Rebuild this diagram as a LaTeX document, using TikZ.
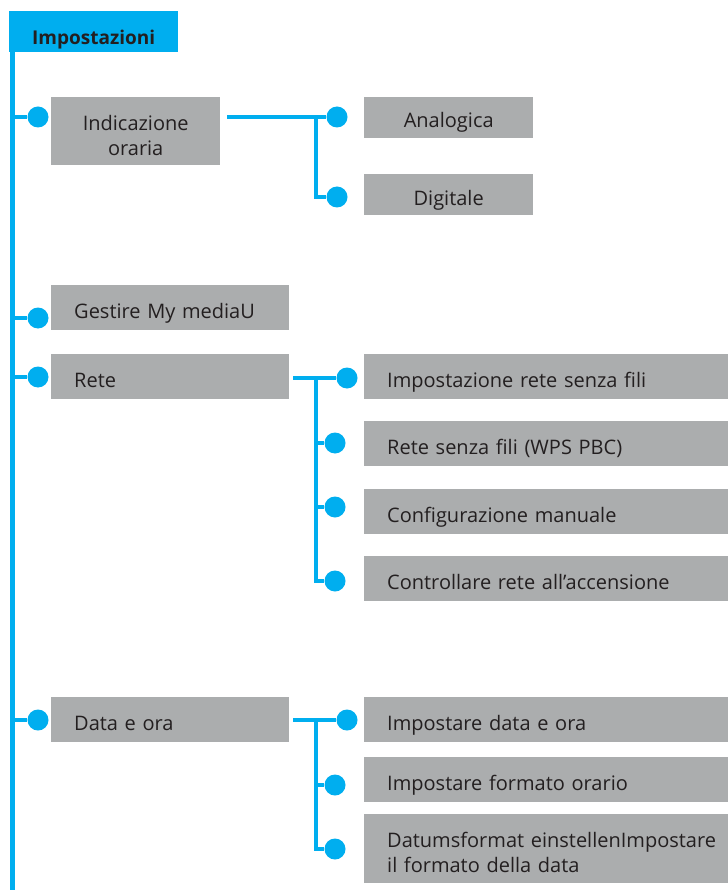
\documentclass[tikz,border=0pt]{standalone}
\usepackage{fontspec}
\setmainfont{Open Sans}
\usetikzlibrary{positioning,calc}
\definecolor{menublue}{HTML}{00AEEF}
\definecolor{menugray}{HTML}{ABADAE}
\definecolor{menutext}{HTML}{231F20}

\begin{document}
\begin{tikzpicture}[x=1pt,y=-1pt,
    voce/.style   = {fill=menugray,text=menutext,anchor=north west,
                     inner xsep=23pt,inner ysep=0pt,align=left,text width=#1,
                     text height=33pt,text depth=12pt,
                     font=\fontsize{20}{25}\selectfont},
    titolo/.style = {fill=menublue,text=menutext,anchor=north west,
                     inner xsep=23pt,inner ysep=0pt,align=left,text width=123pt,
                     text height=33pt,text depth=8pt,
                     font=\fontsize{19}{25}\selectfont\bfseries},
    punto/.style  = {circle,fill=menublue,minimum size=21pt,inner sep=0pt},
    linea/.style  = {line width=4.5pt,menublue},
  ]
  \useasboundingbox (0,0) rectangle (727,890);

  % Titolo e tronco principale
  \node[titolo] (impostazioni) at (9,11) {Impostazioni};
  \coordinate (trunk) at (12.5,892);
  \draw[linea] (impostazioni.south -| trunk) -- (trunk);

  % Voci del primo livello
  \node[voce=123pt,align=center,text height=33pt,text depth=35pt]
       (orario) at (51,97) {Indicazione\\oraria};
  \node[voce=192pt] (media)   at (51,285) {Gestire My mediaU};
  \node[voce=192pt] (rete)    at (51,354) {Rete};
  \node[voce=192pt] (dataora) at (51,697) {Data e ora};

  \foreach \nome/\py in {orario/117,media/318,rete/377,dataora/720}
  {
    \node[punto] (p\nome) at (38,\py) {};
    \draw[linea] (p\nome -| trunk) -- (p\nome);
  }

  % Indicazione oraria
  \node[voce=123pt,align=center,text height=30pt,text depth=11pt]
       (analogica) at (364,97) {Analogica};
  \node[voce=123pt,align=center,text height=31pt,text depth=10pt]
       (digitale) at (364,174) {Digitale};
  \node[punto] (panalogica) at (337,117) {};
  \node[punto] (pdigitale)  at (337,197) {};
  \coordinate (vorario) at (316,117);
  \draw[linea] ([xshift=7pt]orario.east |- panalogica) -- (panalogica);
  \draw[linea] (vorario) |- (pdigitale);

  % Rete
  \foreach \n/\py/\px/\dy/\txt in {
      1/354/347/378/{Impostazione rete senza fili},
      2/421/335/443/{Rete senza fili (WPS PBC)},
      3/489/335/507/{Configurazione manuale},
      4/556/335/581/{Controllare rete all’accensione}}
  {
    \node[voce=340pt] (rete\n) at (364,\py) {\txt};
    \node[punto] (prete\n) at (\px,\dy) {};
  }
  \coordinate (vrete) at (316,378);
  \draw[linea] ([xshift=4pt]rete.east |- prete1) -- (prete1);
  \draw[linea] (vrete) |- (prete4);
  \draw[linea] (prete2 -| vrete) -- (prete2);
  \draw[linea] (prete3 -| vrete) -- (prete3);

  % Data e ora
  \foreach \n/\py/\px/\dy/\txt in {
      1/697/347/720/{Impostare data e ora},
      2/757/335/785/{Impostare formato orario}}
  {
    \node[voce=340pt] (data\n) at (364,\py) {\txt};
    \node[punto] (pdata\n) at (\px,\dy) {};
  }
  \node[voce=340pt,text height=33pt,text depth=36pt] (data3) at (364,814)
       {Datumsformat einstellenImpostare\\il formato della data};
  \node[punto] (pdata3) at (335,849) {};
  \coordinate (vdata) at (316,720);
  \draw[linea] ([xshift=4pt]dataora.east |- pdata1) -- (pdata1);
  \draw[linea] (vdata) |- (pdata3);
  \draw[linea] (pdata2 -| vdata) -- (pdata2);

\end{tikzpicture}
\end{document}
